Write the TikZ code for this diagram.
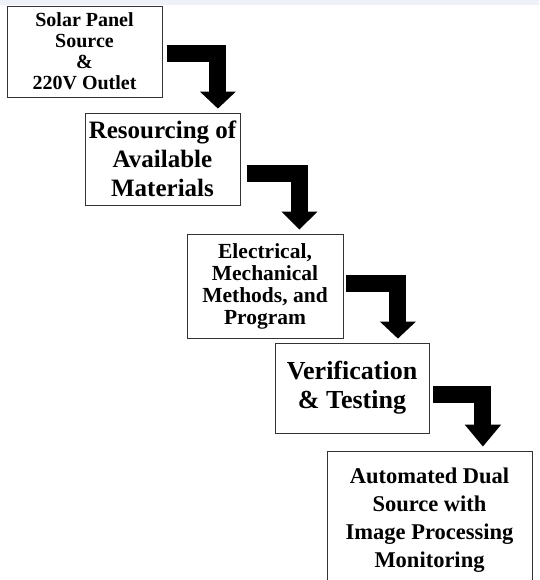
\documentclass[tikz,border=0pt]{standalone}
\usepackage{fontspec}
\setmainfont{Liberation Serif}
\usepackage{xcolor}
\usetikzlibrary{arrows.meta,calc}
\definecolor{topstrip}{RGB}{238,241,248}

\begin{document}
\begin{tikzpicture}[x=1pt, y=-1pt,
    stepbox/.style={draw=black!80, line width=0.8pt, inner sep=0pt, align=center},
    bendarrow/.style={line width=17pt, line join=miter, -{Triangle[width=35pt,length=#1]}}]
  \useasboundingbox (0,0) rectangle (539,580);
  \clip (0,0) rectangle (539,580);
  \fill[topstrip] (0,0) rectangle (539,5);

  \node[stepbox, minimum width=155, minimum height=91, font=\fontsize{20}{21}\selectfont\bfseries]
    (s1) at (84.5,51.5) {Solar Panel\\Source\\\&\\220V Outlet};
  \node[stepbox, minimum width=155, minimum height=92, font=\fontsize{25}{29}\selectfont\bfseries]
    (s2) at (162.5,159) {Resourcing of\\Available\\Materials};
  \node[stepbox, minimum width=156, minimum height=104, font=\fontsize{21.5}{22}\selectfont\bfseries]
    (s3) at (265,286) {Electrical,\\Mechanical\\Methods, and\\Program};
  \node[stepbox, minimum width=154, minimum height=90, font=\fontsize{26}{29}\selectfont\bfseries]
    (s4) at (352,388) {Verification\\\& Testing};
  \node[stepbox, minimum width=205, minimum height=139, font=\fontsize{22.5}{28}\selectfont\bfseries]
    (s5) at (429.5,520.5) {Automated Dual\\Source with\\Image Processing\\Monitoring};

  \foreach \a/\b/\sx/\sy/\tx/\ty/\hl in {s1/s2/5/2/-22.5/-4/17pt, s2/s3/7/14.5/-44/-4/18pt,
                                        s3/s4/3/-2.5/-31.5/-4/17pt, s4/s5/4/6.5/-49.5/-4/22pt} {
    \draw[bendarrow=\hl] ($(\a.east)+(\sx,\sy)$) -| ($(\b.north east)+(\tx,\ty)$);
  }
\end{tikzpicture}
\end{document}
